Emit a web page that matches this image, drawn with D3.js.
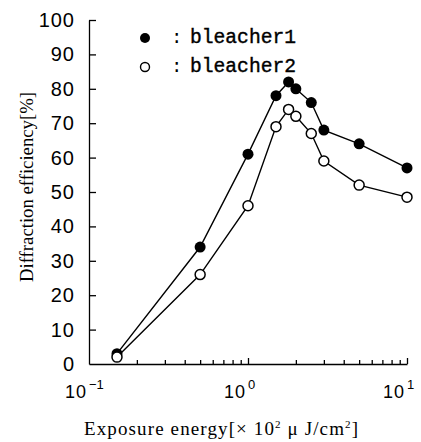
<!DOCTYPE html>
<html>
<head>
<meta charset="utf-8">
<script src="https://cdn.jsdelivr.net/npm/d3@7"></script>
<style>
    body { margin: 0; background: #fff; }
    svg { display: block; }
    .tick line, .domain { stroke: #000; stroke-width: 1.3; }
</style>
</head>
<body>
<svg class="chart" width="421" height="442"></svg>
<script>
    // exposure energy [x10^2 uJ/cm^2]
    var exposure = [0.15, 0.5, 1.0, 1.5, 1.8, 2.0, 2.5, 3.0, 5.0, 10];
    // diffraction efficiency [%]
    var bleacher1 = [3, 34, 61, 78, 82, 80, 76, 68, 64, 57];
    var bleacher2 = [2, 26, 46, 69, 74, 72, 67, 59, 52, 48.5];
    var yTicks = [0, 10, 20, 30, 40, 50, 60, 70, 80, 90, 100];
    var xMajor = [0.1, 1, 10];
    var xExp = ["\u22121", "0", "1"];
    var xMinor = [0.2, 0.3, 0.4, 0.5, 0.6, 0.7, 0.8, 0.9, 2, 3, 4, 5, 6, 7, 8, 9];
    var legendNames = ["bleacher1", "bleacher2"];

    var svg = d3.select(".chart");

    var x = d3.scaleLog()
        .domain([0.1, 10])
        .range([89, 407]);

    var y = d3.scaleLinear()
        .domain([0, 100])
        .range([364, 20]);

    // x axis: ticks point inward
    svg.append("g")
        .attr("transform", "translate(0," + y(0) + ")")
        .call(d3.axisBottom(x)
            .tickValues(xMinor)
            .tickSizeInner(-4)
            .tickSizeOuter(0)
            .tickFormat(""));

    svg.append("g")
        .attr("transform", "translate(0," + y(0) + ")")
        .call(d3.axisBottom(x)
            .tickValues([1, 10])
            .tickSizeInner(-6)
            .tickSizeOuter(0)
            .tickFormat(""))
        .select(".domain").remove();

    var xl = svg.append("g")
        .attr("font-family", "'Liberation Sans', Arial, sans-serif")
        .attr("fill", "#000");

    xl.selectAll(".base")
        .data(xMajor)
        .enter()
        .append("text")
        .attr("x", function (d) { return x(d) - 2; })
        .attr("y", 398)
        .attr("text-anchor", "end")
        .attr("font-size", "18px")
        .attr("letter-spacing", "1")
        .text("10");

    xl.selectAll(".exp")
        .data(xMajor)
        .enter()
        .append("text")
        .attr("x", function (d) { return x(d); })
        .attr("y", 389)
        .attr("font-size", "13px")
        .text(function (d, i) { return xExp[i]; });

    // y axis
    var yAxis = svg.append("g")
        .attr("transform", "translate(" + x(0.1) + ",0)")
        .call(d3.axisLeft(y)
            .tickValues(yTicks)
            .tickSizeInner(-7)
            .tickSizeOuter(0)
            .tickPadding(14));

    yAxis.selectAll(".tick text")
        .attr("font-family", "'Liberation Sans', Arial, sans-serif")
        .attr("font-size", "20px")
        .attr("letter-spacing", "1");

    yAxis.selectAll(".tick")
        .filter(function (d) { return d === 0; })
        .select("line").remove();

    // axis titles
    svg.append("text")
        .attr("transform", "translate(33,187) rotate(-90)")
        .attr("text-anchor", "middle")
        .attr("font-family", "'Liberation Serif', 'Times New Roman', serif")
        .attr("font-size", "18px")
        .attr("textLength", 190)
        .attr("lengthAdjust", "spacingAndGlyphs")
        .text("Diffraction efficiency[%]");

    var xt = svg.append("text")
        .attr("x", 84)
        .attr("y", 435)
        .attr("font-family", "'Liberation Serif', 'Times New Roman', serif")
        .attr("font-size", "19px")
        .attr("textLength", 274)
        .attr("lengthAdjust", "spacing");
    xt.append("tspan").text("Exposure  energy[\u00d7 10");
    xt.append("tspan").attr("dy", -7).attr("font-size", "11px").text("2");
    xt.append("tspan").attr("dy", 7).text(" \u03bc J/cm");
    xt.append("tspan").attr("dy", -7).attr("font-size", "11px").text("2");
    xt.append("tspan").attr("dy", 7).text("]");

    // lines
    var line = d3.line()
        .x(function (d, i) { return x(exposure[i]); })
        .y(function (d) { return y(d); });

    [bleacher1, bleacher2].forEach(function (series) {
        svg.append("path")
            .datum(series)
            .attr("fill", "none")
            .attr("stroke", "#000")
            .attr("stroke-width", 1.4)
            .attr("d", line);
    });

    svg.selectAll(".dot1")
        .data(bleacher1)
        .enter()
        .append("circle")
        .attr("cx", function (d, i) { return x(exposure[i]); })
        .attr("cy", function (d) { return y(d); })
        .attr("r", 5.5)
        .attr("fill", "#000");

    svg.selectAll(".dot2")
        .data(bleacher2)
        .enter()
        .append("circle")
        .attr("cx", function (d, i) { return x(exposure[i]); })
        .attr("cy", function (d) { return y(d); })
        .attr("r", 5)
        .attr("fill", "#fff")
        .attr("stroke", "#000")
        .attr("stroke-width", 1.5);

    // legend
    var legend = svg.selectAll(".legend")
        .data(legendNames)
        .enter()
        .append("g")
        .attr("transform", function (d, i) { return "translate(145," + (38 + i * 29) + ")"; });

    legend.append("circle")
        .attr("r", function (d, i) { return i === 0 ? 5 : 4.5; })
        .attr("fill", function (d, i) { return i === 0 ? "#000" : "#fff"; })
        .attr("stroke", "#000")
        .attr("stroke-width", function (d, i) { return i === 0 ? 0 : 1.4; });

    legend.append("text")
        .attr("x", 26)
        .attr("y", 5)
        .attr("font-family", "'Liberation Mono', 'Courier New', monospace")
        .attr("font-size", "19px")
        .text(":");

    legend.append("text")
        .attr("x", 45)
        .attr("y", 5)
        .attr("font-family", "'Liberation Mono', 'Courier New', monospace")
        .attr("font-size", "20px")
        .attr("stroke", "#000")
        .attr("stroke-width", 0.4)
        .attr("textLength", 106)
        .attr("lengthAdjust", "spacingAndGlyphs")
        .text(function (d) { return d; });
</script>
</body>
</html>
